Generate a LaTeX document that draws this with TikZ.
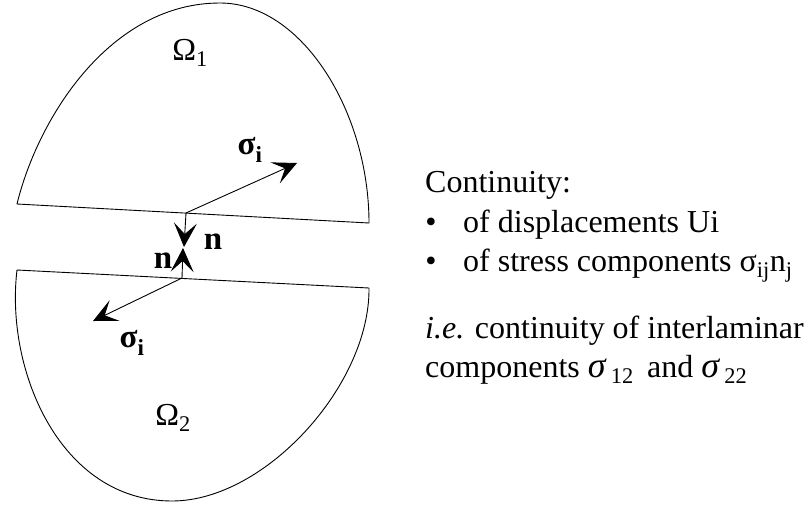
\documentclass[tikz,border=0pt]{standalone}
\usepackage{fontspec}
\setmainfont{Liberation Serif}
\usetikzlibrary{arrows.meta}
\begin{document}
\begin{tikzpicture}[x=1pt,y=-1pt,
  outline/.style={line width=0.9pt, line join=round},
  vec/.style={line width=0.9pt,-{Stealth[length=24pt,width=23pt,inset=11pt]}},
  omega/.style={font=\fontsize{32}{38}\selectfont, inner sep=0pt},
  lbl/.style={font=\fontsize{33}{38}\selectfont\bfseries, inner sep=0pt},
  txt/.style={font=\fontsize{32}{38}\selectfont, anchor=base west, inner sep=0pt},
  bul/.style={font=\fontsize{32}{38}\selectfont, anchor=base, inner sep=0pt}]
\useasboundingbox (0,0) rectangle (804,504);

% upper body Omega_1
\draw[outline] (17,204) .. controls (38,118) and (110,3) .. (220,3)
  .. controls (302,3) and (369,112) .. (369,223) -- cycle;

% lower body Omega_2
\draw[outline] (17,270) .. controls (5,370) and (60,501) .. (172,501)
  .. controls (265,501) and (370,385) .. (369,288) -- cycle;

% contact points and tips
\coordinate (p1) at (186,213);
\coordinate (p2) at (182,278);
\coordinate (n1tip) at (184,247);
\coordinate (n2tip) at (183,248);
\coordinate (s1tip) at (297,163);
\coordinate (s2tip) at (93,321);

\draw[vec] (p1) -- (s1tip);
\draw[vec] (p1) -- (n1tip);
\draw[vec] (p2) -- (n2tip);
\draw[vec] (p2) -- (s2tip);

% labels
\node[omega] (om1) at (190,53) {Ω\textsubscript{1}};
\node[omega] (om2) at (173,418) {Ω\textsubscript{2}};
\node[lbl] (sig1) at (250,150) {σ\textsubscript{i}};
\node[lbl] (sig2) at (132,343) {σ\textsubscript{i}};
\node[lbl] (nr) at (213,242) {n};
\node[lbl] (nl) at (163,261) {n};

% text
\node[txt] (cont) at (425,192) {Continuity:};
\node[bul] (bu1) at (431,232) {•};
\node[txt] (t1) at (463,232) {of displacements Ui};
\node[bul] (bu2) at (431,271) {•};
\node[txt] (t2) at (463,271) {of stress components σ\textsubscript{ij}n\textsubscript{j}};
\node[txt] (ie) at (425,338) {\textit{i.e.} continuity of interlaminar};
\node[txt] (comp) at (425,377) {components {\fontsize{36}{38}\selectfont\itshape σ}\,\textsubscript{12}\, and {\fontsize{36}{38}\selectfont\itshape σ}\,\textsubscript{22}};
\end{tikzpicture}
\end{document}
